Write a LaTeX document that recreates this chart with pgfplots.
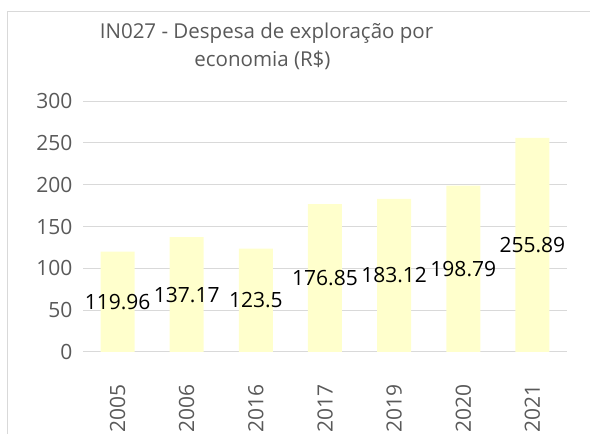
\documentclass[border=0pt]{standalone}
\usepackage{pgfplots}
\pgfplotsset{compat=1.18}
\usepackage{fontspec}
\setmainfont{Open Sans}
\definecolor{txt}{HTML}{595959}
\definecolor{barc}{HTML}{FFFFCC}
\definecolor{gridc}{HTML}{D9D9D9}
\pgfplotstableread{
x y lab
0 119.96 119.96
1 137.17 137.17
2 123.5 123.5
3 176.85 176.85
4 183.12 183.12
5 198.79 198.79
6 255.89 255.89
}\datatab
\begin{document}
\begin{tikzpicture}[x=1pt,y=1pt]
\useasboundingbox (0,0) rectangle (590,434);
\draw[gridc, line width=1pt] (7,-5) -- (7,422) -- (595,422);
\node[anchor=base, text=txt, font=\fontsize{20.5}{24}\selectfont, inner sep=0pt] at (266.5,395) {IN027 - Despesa de exploração por};
\node[anchor=base, text=txt, font=\fontsize{20.5}{24}\selectfont, inner sep=0pt] at (262.5,367) {economia (R\$)};
\begin{axis}[
  at={(83pt,82pt)}, anchor=south west,
  scale only axis, width=484pt, height=251pt,
  xmin=-0.5, xmax=6.5, ymin=0, ymax=300,
  ytick={0,50,...,300},
  xtick={0,...,6},
  xticklabels={2005,2006,2016,2017,2019,2020,2021},
  axis line style={draw=none},
  tick style={draw=none},
  ymajorgrids,
  major grid style={gridc, line width=1pt},
  /pgf/number format/assume math mode=true,
  ticklabel style={text=txt, font=\fontsize{21}{24}\selectfont},
  yticklabel style={anchor=east, xshift=-7pt},
  xticklabel style={rotate=90, anchor=east},
  xticklabel shift=25pt,
  ybar, bar width=34pt,
]
\addplot[fill=barc, draw=none,
  nodes near coords, point meta=explicit symbolic,
  visualization depends on=rawy\as\rawy,
  every node near coord/.append style={anchor=center, inner sep=0pt, text=black, font=\fontsize{21}{24}\selectfont, shift={(axis direction cs:0,-\rawy/2)}},
] table[x=x, y=y, meta=lab] {\datatab};
\end{axis}
\end{tikzpicture}
\end{document}
